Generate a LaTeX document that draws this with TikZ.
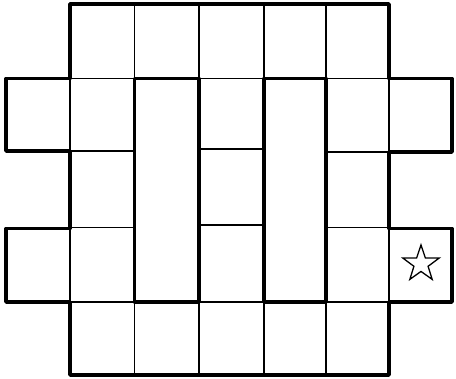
\documentclass[tikz,border=0pt]{standalone}
\usetikzlibrary{shapes.geometric}
\begin{document}
\begin{tikzpicture}[x=1pt,y=-1pt,
  thin line/.style={line width=1.2pt,black},
  thick line/.style={line width=3.8pt,black,line join=round,line cap=round},
  starmark/.style={star,star points=5,star point ratio=2.55,minimum size=38pt,inner sep=0pt,draw,line width=1.3pt}]
\useasboundingbox (0,0) rectangle (456,379);
% thin inner lines
\draw[thin line]
  (134.5,4) -- (134.5,78.5) (199,4) -- (199,78.5) (264,4) -- (264,78.5) (326,4) -- (326,78.5)
  (134.5,302) -- (134.5,375) (199,302) -- (199,375) (264,302) -- (264,375) (326,302) -- (326,375)
  (70,78.5) -- (389,78.5) (70,302) -- (389,302)
  (70,78.5) -- (70,151) (70,228) -- (70,302)
  (389,78.5) -- (389,152) (389,228) -- (389,302)
  (70,151) -- (134.5,151) (70,227.5) -- (134.5,227.5)
  (199,149) -- (264,149) (199,225) -- (264,225)
  (326,152) -- (389,152) (326,227.5) -- (389,227.5);
% thick outline
\draw[thick line] (70,4) -- (389,4) -- (389,78.5) -- (452,78.5) -- (452,152) -- (389,152)
  -- (389,228.5) -- (452,228.5) -- (452,302) -- (389,302) -- (389,375) -- (70,375)
  -- (70,302) -- (6,302) -- (6,228.5) -- (70,228.5) -- (70,151) -- (6,151) -- (6,78.5)
  -- (70,78.5) -- cycle;
\draw[thick line] (134.5,78.5) rectangle (199,302);
\draw[thick line] (264,78.5) rectangle (326,302);
\node[starmark] (s) at (421,264) {};
\end{tikzpicture}
\end{document}
